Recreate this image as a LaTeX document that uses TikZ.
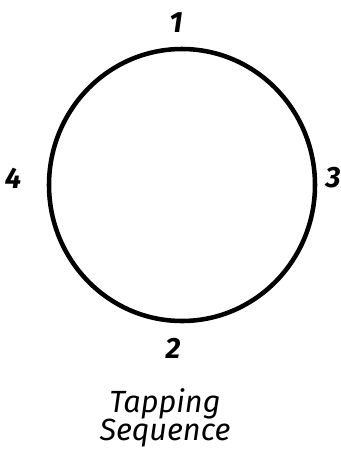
\documentclass[tikz,border=0pt]{standalone}
\usepackage{fontspec}
\setmainfont{Fira Sans}
\begin{document}
\begin{tikzpicture}[x=0.75pt,y=-0.75pt]
\tikzset{
  ring/.style={draw=black, line width=3.4pt},
  numlabel/.style={font=\bfseries\itshape\fontsize{22}{24}\selectfont, inner sep=0pt},
  caption/.style={font=\itshape\fontsize{23}{21}\selectfont, inner sep=0pt, align=center}
}
\useasboundingbox (0,0) rectangle (341,458);
\coordinate (c) at (182,185);
\draw[ring] (c) ellipse [x radius=133, y radius=136];
\node[numlabel] (n1) at (176,23) {1};
\node[numlabel] (n2) at (173,348) {2};
\node[numlabel] (n3) at (333,178) {3};
\node[numlabel] (n4) at (13,178) {4};
\node[caption] (t1) at (165,404) {Tapping};
\node[caption] (t2) at (165,433) {Sequence};
\end{tikzpicture}
\end{document}
